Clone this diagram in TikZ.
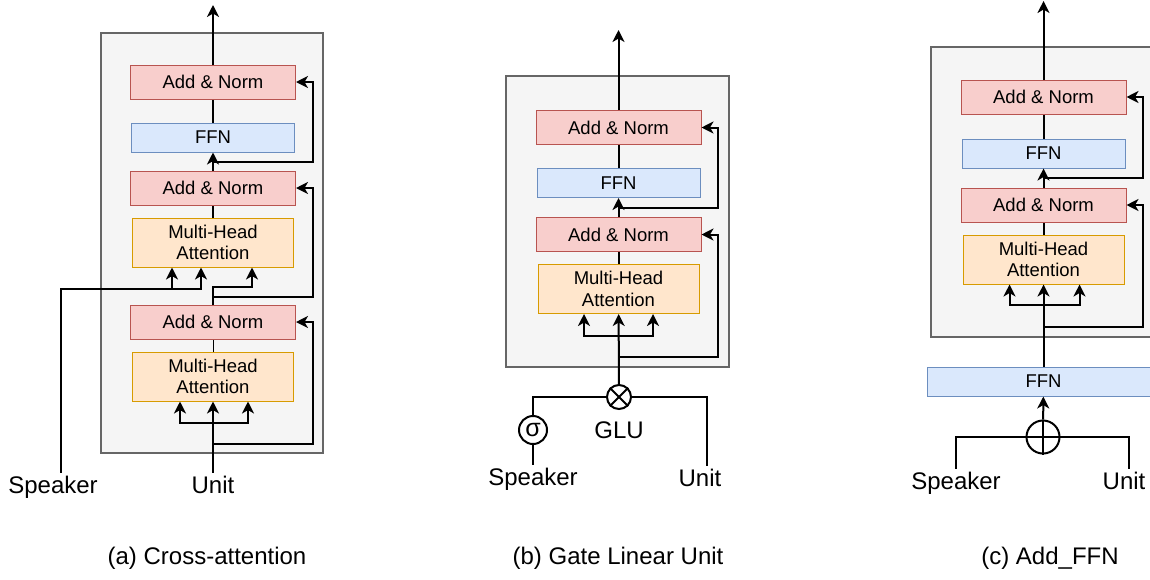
\documentclass[tikz,border=0pt]{standalone}
\usepackage{fontspec}
\setmainfont{Liberation Sans}
\usetikzlibrary{arrows.meta, positioning, calc}
\definecolor{mred}{HTML}{B85450}
\definecolor{mredfill}{HTML}{F8CECC}
\definecolor{mblue}{HTML}{6C8EBF}
\definecolor{mbluefill}{HTML}{DAE8FC}
\definecolor{morange}{HTML}{D79B00}
\definecolor{morangefill}{HTML}{FFE6CC}
\definecolor{mgray}{HTML}{666666}
\definecolor{mgrayfill}{HTML}{F5F5F5}
\tikzstyle{panel} = [draw=mgray, fill=mgrayfill, line width=1.8pt]
\tikzstyle{addnorm} = [rectangle, minimum width=165pt, minimum height=34pt, inner sep=2pt, draw=mred, fill=mredfill, line width=1pt, font=\fontsize{18.5}{21.5}\selectfont]
\tikzstyle{ffn} = [rectangle, minimum width=163pt, minimum height=29pt, inner sep=2pt, draw=mblue, fill=mbluefill, line width=1pt, font=\fontsize{18.5}{21.5}\selectfont]
\tikzstyle{attn} = [rectangle, minimum width=161pt, minimum height=49pt, inner sep=2pt, draw=morange, fill=morangefill, line width=1pt, font=\fontsize{18.5}{21.5}\selectfont]
\tikzstyle{inlabel} = [font=\fontsize{24}{28}\selectfont, text height=17pt, text depth=5pt, inner sep=3pt]
\tikzstyle{gate} = [circle, draw, line width=2pt, inner sep=0pt]
\tikzstyle{wire} = [line width=2pt]
\tikzstyle{cable} = [line width=2pt, -{Stealth[length=12pt, width=12pt, inset=3.5pt]}]

\begin{document}
\begin{tikzpicture}[x=1pt, y=-1pt, align=center]
  \useasboundingbox (0,0) rectangle (1150,579);
  \clip (0,0) rectangle (1150,579);
  \draw[panel] (101,33) rectangle (323,453);
  \draw[panel] (506,76) rectangle (729,367);
  \draw[panel] (931,47) rectangle (1156,337);

  % (a) cross-attention
  \node (mhaa2) [attn] at (213,376.5) {Multi-Head\\Attention};
  \node (ana3) [addnorm, above=12pt of mhaa2] {Add \& Norm};
  \node (mhaa1) [attn, above=37pt of ana3] {Multi-Head\\Attention};
  \node (ana2) [addnorm, above=12pt of mhaa1] {Add \& Norm};
  \node (ffna) [ffn, above=18pt of ana2] {FFN};
  \node (ana1) [addnorm, above=23pt of ffna] {Add \& Norm};
  \node (spka) [inlabel] at (53,487) {Speaker};
  \node (unita) [inlabel] at (213,487) {Unit};
  \node (capa) [inlabel] at (207,558) {(a) Cross-attention};
  \coordinate (outa) at (213,5);
  \coordinate (resa) at (313,0);
  \draw [cable] (ana1) -- (outa);
  \draw [wire] (ffna) -- (ana1);
  \draw [cable] (ana2) -- (ffna);
  \coordinate (ra1) at ($(ana2.north)!.5!(ffna.south)$);
  \draw [cable] (ra1) -- (ra1 -| resa) |- (ana1);
  \draw [wire] (mhaa1) -- (ana2);
  \coordinate (kva) at ([xshift=-12pt, yshift=-21pt]mhaa1.south);
  \draw [cable] ([xshift=8pt]spka.north) |- (kva) -- (kva |- mhaa1.south);
  \draw [cable] ([xshift=-29pt]kva) -- ([xshift=-41pt]mhaa1.south);
  \coordinate (qa) at ([yshift=18pt]ana3.north);
  \draw [cable] (ana3) -- (qa) -| ([xshift=39pt]mhaa1.south);
  \coordinate (ra2) at ([yshift=8pt]ana3.north);
  \draw [cable] (ra2) -- (ra2 -| resa) |- (ana2);
  \draw [line width=1pt] (mhaa2) -- (ana3);
  \coordinate (fa) at ([yshift=-21pt]mhaa2.south);
  \draw [cable] (unita) -- (mhaa2);
  \draw [cable] (fa) -| ([xshift=-33pt]mhaa2.south);
  \draw [cable] (fa) -| ([xshift=35pt]mhaa2.south);
  \coordinate (ra3) at ([yshift=-42pt]mhaa2.south);
  \draw [cable] (ra3) -- (ra3 -| resa) |- (ana3);

  % (b) gate linear unit
  \node (mhab) [attn] at (618.5,289) {Multi-Head\\Attention};
  \node (anb2) [addnorm, above=12pt of mhab] {Add \& Norm};
  \node (ffnb) [ffn, above=19pt of anb2] {FFN};
  \node (anb1) [addnorm, above=23pt of ffnb] {Add \& Norm};
  \node (glu) [gate, minimum size=24pt] at (619,397) {};
  \node (sig) [gate, minimum size=28pt, font=\fontsize{25}{28}\selectfont] at (533,430) {σ};
  \node (glulab) [inlabel] at (619,432) {GLU};
  \node (spkb) [inlabel] at (533,479) {Speaker};
  \node (unitb) [inlabel] at (700,480) {Unit};
  \node (capb) [inlabel] at (618,558) {(b) Gate Linear Unit};
  \coordinate (outb) at (618.5,30);
  \coordinate (resb) at (718,0);
  \draw [cable] (anb1) -- (outb);
  \draw [wire] (ffnb) -- (anb1);
  \draw [cable] (anb2) -- (ffnb);
  \coordinate (rb1) at ($(anb2.north)!.5!(ffnb.south)$);
  \draw [cable] (rb1) -- (rb1 -| resb) |- (anb1);
  \draw [wire] (mhab) -- (anb2);
  \coordinate (fb) at ([yshift=-22pt]mhab.south);
  \draw [cable] (glu) -- (mhab);
  \draw [cable] (fb) -| ([xshift=-34.5pt]mhab.south);
  \draw [cable] (fb) -| ([xshift=34.5pt]mhab.south);
  \coordinate (rb2) at ([yshift=-43pt]mhab.south);
  \draw [cable] (rb2) -- (rb2 -| resb) |- (anb2);
  \draw [wire] (glu.north east) -- (glu.south west);
  \draw [wire] (glu.north west) -- (glu.south east);
  \draw [wire] (sig) |- (glu);
  \draw [wire] (spkb) -- (sig);
  \draw [wire] ([xshift=7pt]unitb.north) |- (glu);

  % (c) add + FFN
  \node (mhac) [attn] at (1043.5,259.5) {Multi-Head\\Attention};
  \node (anc2) [addnorm, above=12pt of mhac] {Add \& Norm};
  \node (ffnc) [ffn, above=19pt of anc2] {FFN};
  \node (anc1) [addnorm, above=24pt of ffnc] {Add \& Norm};
  \node (ffnc2) [ffn, minimum width=232pt, below=82pt of mhac] {FFN};
  \node (sum) [gate, minimum size=33pt] at (1043,437) {};
  \node (spkc) [inlabel] at (956,483) {Speaker};
  \node (unitc) [inlabel] at (1124,483) {Unit};
  \node (capc) [inlabel] at (1050,558) {(c) Add\_FFN};
  \coordinate (outc) at (1043.5,1);
  \coordinate (resc) at (1143,0);
  \draw [cable] (anc1) -- (outc);
  \draw [wire] (ffnc) -- (anc1);
  \draw [cable] (anc2) -- (ffnc);
  \coordinate (rc1) at ($(anc2.north)!.5!(ffnc.south)$);
  \draw [cable] (rc1) -- (rc1 -| resc) |- (anc1);
  \draw [wire] (mhac) -- (anc2);
  \coordinate (fc) at ([yshift=-20pt]mhac.south);
  \draw [cable] (ffnc2) -- (mhac);
  \draw [cable] (fc) -| ([xshift=-34pt]mhac.south);
  \draw [cable] (fc) -| ([xshift=36pt]mhac.south);
  \coordinate (rc2) at ([yshift=-42pt]mhac.south);
  \draw [cable] (rc2) -- (rc2 -| resc) |- (anc2);
  \draw [cable] (sum) -- (ffnc2);
  \draw [wire] (sum.west) -- (sum.east);
  \draw [wire] (sum.north) -- (sum.south);
  \draw [wire] (spkc) |- (sum);
  \draw [wire] ([xshift=5pt]unitc.north) |- (sum);
\end{tikzpicture}
\end{document}
